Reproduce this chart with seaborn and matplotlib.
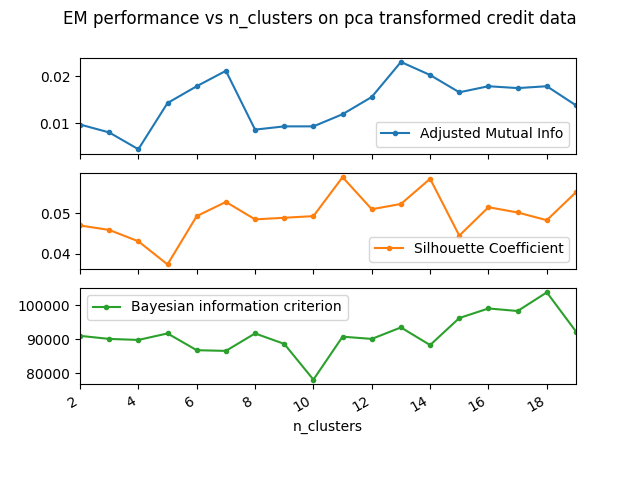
import numpy as np
import pandas as pd
import matplotlib
matplotlib.use("Agg")
import matplotlib.pyplot as plt
import seaborn as sns

# values
n_clusters = list(range(2, 20))
ami = [0.0097, 0.0080, 0.0044, 0.0143, 0.0179, 0.0212, 0.0086, 0.0093, 0.0093,
       0.0119, 0.0156, 0.0231, 0.0203, 0.0166, 0.0179, 0.0175, 0.0179, 0.0138]
silhouette = [0.0470, 0.0459, 0.0431, 0.0374, 0.0493, 0.0528, 0.0485, 0.0489, 0.0493,
              0.0589, 0.0510, 0.0523, 0.0585, 0.0445, 0.0515, 0.0502, 0.0483, 0.0552]
bic = [91000, 90100, 89800, 91700, 86800, 86600, 91700, 88650, 78200,
       90750, 90100, 93450, 88300, 96200, 99000, 98250, 103700, 92250]

series = [("Adjusted Mutual Info", ami, "lower right"),
          ("Silhouette Coefficient", silhouette, "lower right"),
          ("Bayesian information criterion", bic, "upper left")]
colors = ["#1f77b4", "#ff7f0e", "#2ca02c"]


def main():
    df = pd.DataFrame({"n_clusters": n_clusters})
    for name, vals, _ in series:
        df[name] = vals

    fig, axes = plt.subplots(3, 1, sharex=True, figsize=(6.4, 4.8), dpi=100)
    for ax, (name, _, loc), c in zip(axes, series, colors):
        sns.lineplot(data=df, x="n_clusters", y=name, ax=ax, color=c, marker=".",
                     markeredgecolor=c, markeredgewidth=1, markersize=6, label=name)
        ax.set_ylabel("")
        ax.legend(loc=loc)
    axes[-1].set_xlim(2, 19)
    axes[-1].set_xlabel("n_clusters")
    fig.suptitle("EM performance vs n_clusters on pca transformed credit data")
    fig.autofmt_xdate()
    fig.savefig("out.png")


if __name__ == '__main__':
    main()
